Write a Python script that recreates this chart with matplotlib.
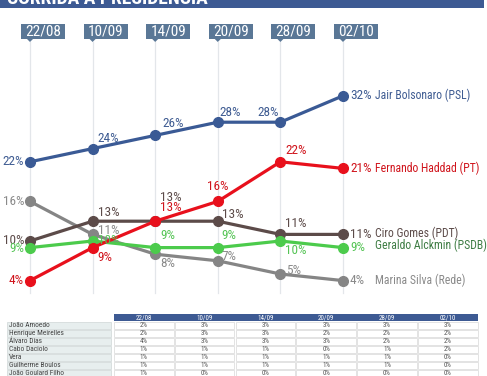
import numpy as np
import matplotlib.pyplot as plt
from matplotlib.patches import Rectangle, Polygon

# poll dates and candidates
dates = ["22/08", "10/09", "14/09", "20/09", "28/09", "02/10"]

bolsonaro = [22, 24, 26, 28, 28, 32]
haddad = [4, 9, 13, 16, 22, 21]
ciro = [10, 13, 13, 13, 11, 11]
alckmin = [9, 10, 9, 9, 10, 9]
marina = [16, 11, 8, 7, 5, 4]

names = ["Jair Bolsonaro (PSL)", "Fernando Haddad (PT)", "Ciro Gomes (PDT)",
         "Geraldo Alckmin (PSDB)", "Marina Silva (Rede)"]

# smaller candidates table
others = ["João Amoedo", "Henrique Meirelles", "Álvaro Dias", "Cabo Daciolo",
          "Vera", "Guilherme Boulos", "João Goulard Filho"]
others_vals = [
    [2, 3, 3, 3, 3, 3],
    [2, 3, 3, 2, 2, 2],
    [4, 3, 3, 3, 2, 2],
    [1, 1, 1, 0, 1, 2],
    [1, 1, 1, 1, 1, 0],
    [1, 1, 1, 1, 1, 0],
    [1, 0, 0, 0, 0, 0],
]

plt.rcParams['font.family'] = ["Roboto Condensed", "DejaVu Sans"]

W, H = 487, 376
fig = plt.figure(figsize=(W / 100, H / 100), dpi=100)

# main chart axes spans the whole figure; index 0 -> px 30, index 5 -> px 343
step = (343 - 30) / 5
ppv = 6.6  # pixels per percentage point
zero_px = 307
ax = fig.add_axes([0, 0, 1, 1])
ax.set_xlim(-30 / step, (W - 30) / step)
ax.set_ylim((zero_px - H) / ppv, zero_px / ppv)
ax.axis('off')

def v(px):
    return (zero_px - px) / ppv

def dx(px):
    return px / step

xs = np.arange(len(dates))

# gridlines and date flags
box_col = "#5a7796"
for i, d in enumerate(dates):
    ax.plot([i, i], [v(42), v(293)], color="#e3e6ea", lw=0.9, zorder=0)
    ax.add_patch(Rectangle((i - dx(9), v(39)), dx(44), v(24) - v(39),
                           facecolor=box_col, edgecolor='none', zorder=1))
    ax.add_patch(Polygon([[i - dx(3), v(39)], [i + dx(3), v(39)], [i, v(42)]],
                         closed=True, facecolor=box_col, edgecolor='none', zorder=1))
    ax.text(i - dx(9) + dx(22), v(31.5), d, color='white', fontsize=11,
            ha='center', va='center', zorder=2)

series = [
    (marina, "#858585", "#8a8a8a", "#8a8a8a",
     [(-6, 0, 'right', 'center'), (5, 4, 'left', 'center'), (5, -9, 'left', 'center'),
      (4, 4, 'left', 'center'), (6, 4, 'left', 'center')]),
    (ciro, "#5c4b49", "#5c4b49", "#5c4b49",
     [(-6, 0, 'right', 'center'), (5, 9, 'left', 'center'), (5, 24, 'left', 'center'),
      (4, 7, 'left', 'center'), (5, 11, 'left', 'center')]),
    (alckmin, "#4ccb4c", "#55c455", "#3f7d45",
     [(-6, -1, 'right', 'center'), (5, 0, 'left', 'center'), (5, 12, 'left', 'center'),
      (4, 12, 'left', 'center'), (5, -9, 'left', 'center')]),
    (haddad, "#e8101c", "#d0141c", "#d0141c",
     [(-6, 0, 'right', 'center'), (5, -10, 'left', 'center'), (5, 14, 'left', 'center'),
      (0, 15, 'center', 'center'), (5, 11, 'left', 'center')]),
    (bolsonaro, "#3a5a95", "#3f5c92", "#3f5c92",
     [(-6, 0, 'right', 'center'), (5, 10, 'left', 'center'), (7, 12, 'left', 'center'),
      (2, 10, 'left', 'center'), (-1, 10, 'right', 'center')]),
]
name_of = {id(bolsonaro): names[0], id(haddad): names[1], id(ciro): names[2],
           id(alckmin): names[3], id(marina): names[4]}
name_dy = {id(ciro): 1, id(alckmin): 2}

for z, (vals, lc, tc, nc, offs) in enumerate(series):
    ax.plot(xs, vals, color=lc, lw=2.3, marker='o', markersize=7,
            solid_capstyle='round', zorder=3 + z)
    for i, val in enumerate(vals[:-1]):
        ox, oy, ha, va = offs[i]
        ax.annotate(f"{val}%", (xs[i], val), xytext=(ox * 0.72, oy * 0.72),
                    textcoords='offset points', ha=ha, va=va, color=tc,
                    fontsize=9.5, zorder=10)
    dy = name_dy.get(id(vals), 0)
    ax.annotate(f"{vals[-1]}%", (xs[-1], vals[-1]), xytext=(7 * 0.72, 0),
                textcoords='offset points', ha='left', va='center', color=tc,
                fontsize=9.5, zorder=10)
    ax.annotate(name_of[id(vals)], (xs[-1], vals[-1]), xytext=(32 * 0.72, dy * 0.72),
                textcoords='offset points', ha='left', va='center', color=nc,
                fontsize=8.5, zorder=10)

# overlay in pixel coordinates for title bar
ov = fig.add_axes([0, 0, 1, 1], zorder=-1)
ov.set_xlim(0, W)
ov.set_ylim(H, 0)
ov.axis('off')
ov.add_patch(Rectangle((0, 0), W - 3, 8, facecolor="#3d5a93", edgecolor='none'))
ov.text(7, 4.5, "CORRIDA À PRESIDÊNCIA", color='white', fontsize=14,
        fontweight='bold', ha='left', va='baseline')

# table of the smaller candidates
tab = fig.add_axes([0, 0, 1, 1], zorder=5)
tab.set_xlim(0, W)
tab.set_ylim(H, 0)
tab.axis('off')
col_x0, col_w, col_gap = 114, 59.5, 1.3
row_y0, row_h = 322, 8
tab.add_patch(Rectangle((col_x0, 314), 6 * col_w + 5 * col_gap, 7,
                        facecolor="#3d5a93", edgecolor='none'))
for j, d in enumerate(dates):
    cx = col_x0 + j * (col_w + col_gap)
    tab.text(cx + col_w / 2, 317.8, d, color='white', fontsize=5,
             ha='center', va='center')
for r, nm in enumerate(others):
    y0 = row_y0 + r * row_h
    tab.add_patch(Rectangle((7, y0), 104, row_h - 1, facecolor="#e7eeee",
                            edgecolor="#cfd6d6", lw=0.5))
    tab.text(9, y0 + row_h / 2 - 0.3, nm, color="#444444", fontsize=5.3,
             ha='left', va='center')
    for j, val in enumerate(others_vals[r]):
        cx = col_x0 + j * (col_w + col_gap)
        tab.add_patch(Rectangle((cx, y0), col_w, row_h - 1, facecolor='white',
                                edgecolor="#d8d8d8", lw=0.5))
        tab.text(cx + col_w / 2, y0 + row_h / 2 - 0.3, f"{val}%", color="#555555",
                 fontsize=5, ha='center', va='center')

fig.savefig("out.png", dpi=100)
